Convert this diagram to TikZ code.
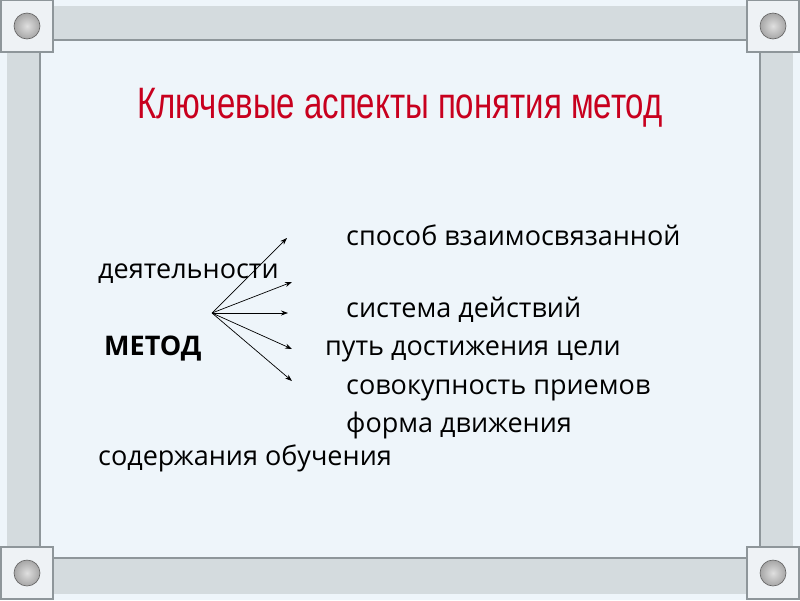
\documentclass[tikz,border=0pt]{standalone}
\usepackage{fontspec}
\setmainfont{Open Sans}
\newfontfamily\titlefont{Liberation Sans}
\usetikzlibrary{arrows.meta}

\definecolor{slide}{HTML}{EEF5FA}
\definecolor{barfill}{HTML}{D4DBDE}
\definecolor{baredge}{HTML}{8E969A}
\definecolor{cornerfill}{HTML}{EEF2F5}
\definecolor{titlered}{HTML}{C8001E}

\tikzset{
  bar/.style={fill=barfill, draw=none},
  edge/.style={baredge, line width=2.5pt},
  corner/.style={fill=cornerfill, draw=baredge, line width=2pt},
  knob/.style={inner color=gray!25, outer color=gray!70, draw=gray!75!black, line width=0.6pt},
  item/.style={anchor=base west, inner sep=0pt, font=\fontsize{27}{31}\selectfont},
  ray/.style={-{Stealth[length=7pt,width=5pt]}, line width=0.7pt}
}

\begin{document}
\begin{tikzpicture}[x=1pt,y=-1pt]
	\useasboundingbox[fill=slide] (0,0) rectangle (800,600);
	% frame bars
	\fill[bar] (53,6) rectangle (747,41);
	\fill[bar] (53,557) rectangle (747,594);
	\fill[bar] (7,53) rectangle (41,547);
	\fill[bar] (759,53) rectangle (793,547);
	\draw[edge] (53,40) -- (747,40);
	\draw[edge] (53,558) -- (747,558);
	\draw[edge] (40,53) -- (40,547);
	\draw[edge] (760,53) -- (760,547);
	% corners
	\foreach \cx/\cy in {27/26, 773/26, 27/573, 773/573}{
		\draw[corner] (\cx-26,\cy-26) rectangle (\cx+26,\cy+26);
		\draw[knob] (\cx,\cy) circle (13);
	}
	% title
	\node[titlered, font=\titlefont\fontsize{44}{48}\selectfont, xscale=0.75] (title) at (400,108) {Ключевые аспекты понятия метод};
	% text
	\node[item] (t1) at (346,245) {способ взаимосвязанной};
	\node[item] (t1b) at (98,278) {деятельности};
	\node[item] (t2) at (346,317) {система действий};
	\node[item, font=\bfseries\fontsize{27}{31}\selectfont] (metod) at (104,355) {МЕТОД};
	\node[item] (t3) at (325,355) {путь достижения цели};
	\node[item] (t4) at (346,394) {совокупность приемов};
	\node[item] (t5) at (346,432) {форма движения};
	\node[item] (t5b) at (98,465) {содержания обучения};
	% arrows
	\coordinate (o) at (212,313);
	\coordinate (e1) at (287,238);
	\coordinate (e2) at (292,282);
	\coordinate (e3) at (288,313);
	\coordinate (e4) at (292,349);
	\coordinate (e5) at (292,381);
	\foreach \e in {e1,e2,e3,e4,e5}
		\draw[ray] (o) -- (\e);
\end{tikzpicture}
\end{document}
